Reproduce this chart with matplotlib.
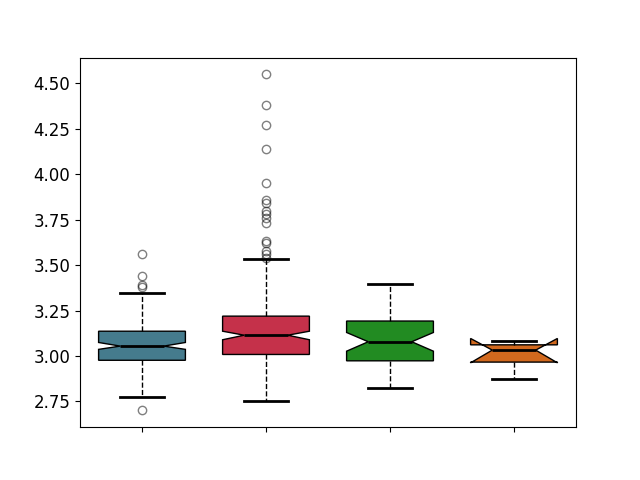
import matplotlib
matplotlib.use("Agg")
import matplotlib.pyplot as plt

# box statistics
medians = [3.054, 3.114, 3.078, 3.032]
q1 = [2.976, 3.008, 2.973, 2.966]
q3 = [3.136, 3.219, 3.192, 3.061]
whislo = [2.776, 2.754, 2.826, 2.875]
whishi = [3.345, 3.532, 3.394, 3.081]
cilo = [3.036, 3.089, 3.026, 2.962]
cihi = [3.074, 3.136, 3.129, 3.096]
fliers = [
    [3.56, 3.44, 3.39, 3.38, 2.70],
    [4.55, 4.38, 4.27, 4.14, 3.95, 3.86, 3.84, 3.80, 3.78, 3.76, 3.73,
     3.63, 3.62, 3.58, 3.56, 3.54],
    [],
    [],
]
colors = ['#457b8d', '#c5314a', '#228b22', '#d2691e']
labels = ['', '', '', '']

stats = []
for i in range(len(medians)):
    stats.append({
        'med': medians[i], 'q1': q1[i], 'q3': q3[i],
        'whislo': whislo[i], 'whishi': whishi[i],
        'cilo': cilo[i], 'cihi': cihi[i],
        'fliers': fliers[i], 'label': labels[i],
    })

fig, ax = plt.subplots(figsize=(6.4, 4.8), dpi=100)
bp = ax.bxp(stats, shownotches=True, widths=0.7, patch_artist=True,
            medianprops=dict(color='black', linewidth=2),
            whiskerprops=dict(color='black', linestyle='--'),
            capprops=dict(color='black', linewidth=2),
            flierprops=dict(marker='o', markerfacecolor='none',
                            markeredgecolor='black', alpha=0.5, markersize=6))
for patch, c in zip(bp['boxes'], colors):
    patch.set_facecolor(c)
    patch.set_edgecolor('black')

ax.tick_params(axis='y', labelsize=12)
fig.savefig("out.png")
